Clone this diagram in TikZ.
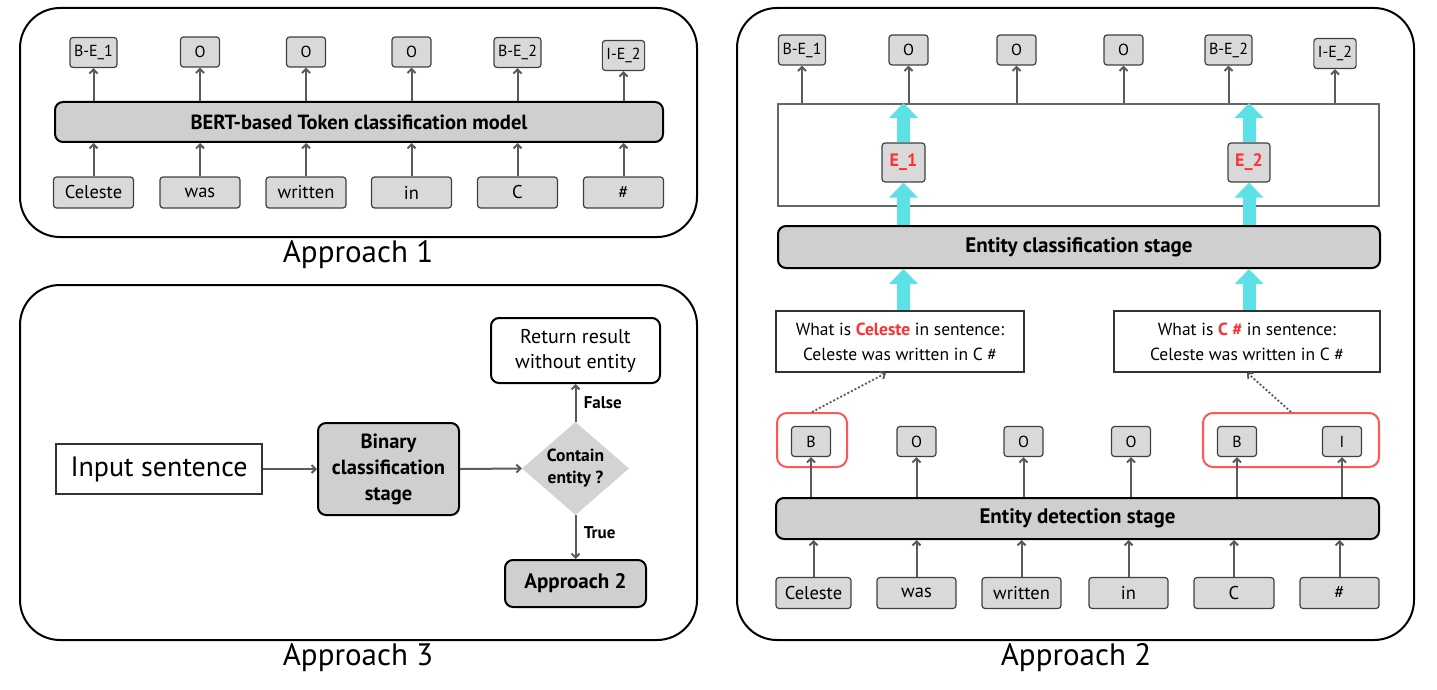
\documentclass[tikz,border=0pt]{standalone}
\usepackage{fontspec}
\setmainfont{PT Sans}
\usetikzlibrary{arrows.meta,shapes.geometric,calc}
\definecolor{tokfill}{HTML}{D9D9D9}
\definecolor{stagefill}{HTML}{CFCFCF}
\definecolor{diafill}{HTML}{D3D3D3}
\definecolor{arrgray}{HTML}{5A5A5A}
\definecolor{cyanA}{HTML}{5CE1E6}
\definecolor{redT}{HTML}{FF3131}
\definecolor{redB}{HTML}{FF5757}
\begin{document}
\begin{tikzpicture}[x=1pt,y=-1pt,
  panel/.style={draw=black, line width=2pt, rounded corners=40pt, minimum width=677pt, inner sep=0pt},
  tok/.style={draw=black!75, fill=tokfill, rounded corners=3pt, line width=1.2pt, minimum width=80pt, minimum height=31pt, inner sep=0pt, font=\fontsize{18.5}{20}\selectfont},
  lab/.style={draw=black!75, fill=tokfill, rounded corners=3pt, line width=1.2pt, minimum width=39pt, minimum height=30pt, inner xsep=4pt, inner ysep=0pt, font=\fontsize{16}{18}\selectfont},
  stage/.style={draw=black, fill=stagefill, line width=2pt, rounded corners=8pt, inner sep=0pt, align=center, font=\fontsize{21}{26}\selectfont\bfseries},
  qbox/.style={draw=black!80, fill=white, line width=1.2pt, inner sep=0pt, minimum height=61pt, align=center, font=\fontsize{17.5}{25}\selectfont},
  redbox/.style={draw=redB, line width=2pt, rounded corners=10pt, minimum height=54pt, inner sep=0pt},
  arr/.style={draw=arrgray, line width=2pt, -{Straight Barb[length=4pt,width=8pt]}},
  dotarr/.style={draw=arrgray, line width=2pt, dotted, -{Straight Barb[length=4pt,width=8pt]}},
  cy/.style={draw=cyanA, line width=13pt, -{Triangle[length=15pt,width=28pt]}},
  ttl/.style={font=\fontsize{31}{34}\selectfont},
  elab/.style={font=\fontsize{17}{19}\selectfont\bfseries}
]
\useasboundingbox (0,0) rectangle (1437,690);

% ---------------- Approach 1 ----------------
\node[panel, minimum height=229pt] (p1) at (358.5,122.5) {};
\node[ttl] (p1t) at (358,255) {Approach 1};
\node[stage, minimum width=608pt, minimum height=40pt, font=\fontsize{20.5}{22}\selectfont\bfseries] (bert) at (359,122) {BERT-based Token classification model};
\node[tok] (a1) at (93.5,192.5) {Celeste};
\node[tok] (a2) at (200,192.5) {was};
\node[tok] (a3) at (306,192.5) {written};
\node[tok] (a4) at (411.5,192.5) {in};
\node[tok] (a5) at (517.5,192.5) {C};
\node[tok] (a6) at (623.5,192.5) {\#};
\node[lab] (b1) at (93.5,52.5) {B-E\_1};
\node[lab] (b2) at (200,52) {O};
\node[lab] (b3) at (306,52) {O};
\node[lab] (b4) at (411.5,52) {O};
\node[lab] (b5) at (517.5,52.5) {B-E\_2};
\node[lab] (b6) at (623.5,55.5) {I-E\_2};
\foreach \i in {1,...,6}{
  \draw[arr] (a\i.north) -- (a\i.north |- bert.south);
  \draw[arr] (b\i.south |- bert.north) -- (b\i.south);
}

% ---------------- Approach 3 ----------------
\node[panel, minimum height=355pt] (p3) at (358.5,462.5) {};
\node[ttl] (p3t) at (358,658) {Approach 3};
\node[draw=black!80, line width=1.2pt, minimum width=206pt, minimum height=50pt, inner sep=0pt, font=\fontsize{28}{30}\selectfont] (inp) at (159,469) {Input sentence};
\node[stage, minimum width=141pt, minimum height=92pt, font=\fontsize{20.5}{26}\selectfont\bfseries] (bin) at (388.5,469) {Binary\\classification\\stage};
\node[diamond, fill=diafill, aspect=1.15, inner sep=0pt, minimum width=107pt, minimum height=93pt, align=center, font=\fontsize{17.5}{22}\selectfont\bfseries] (dia) at (575.5,468.5) {Contain\\entity ?};
\node[draw=black, fill=white, line width=2pt, rounded corners=8pt, minimum width=169pt, minimum height=65pt, inner sep=0pt, align=center, font=\fontsize{20}{25}\selectfont] (ret) at (575.5,350.5) {Return result\\without entity};
\node[stage, minimum width=141pt, minimum height=47pt] (ap2) at (575.5,583.5) {Approach 2};
\draw[arr] (inp.east) -- (bin.west);
\draw[arr] (bin.east) -- (dia.west);
\draw[arr] (dia.north) -- node[right, xshift=4pt, elab] (fl) {False} (ret.south);
\draw[arr] (dia.south) -- node[right, xshift=4pt, pos=0.4, elab] (tl) {True} (ap2.north);

% ---------------- Approach 2 ----------------
\node[panel, minimum height=632pt] (p2) at (1075.5,324) {};
\node[ttl] (p2t) at (1076,658) {Approach 2};

% top labels
\node[lab] (c1) at (802,50) {B-E\_1};
\node[lab] (c2) at (908.5,50) {O};
\node[lab] (c3) at (1016.5,50) {O};
\node[lab] (c4) at (1123.5,50) {O};
\node[lab] (c5) at (1228.5,50) {B-E\_2};
\node[lab] (c6) at (1335,53.5) {I-E\_2};

\node[draw=black!60, line width=2pt, minimum width=601pt, minimum height=102pt, inner sep=0pt] (clsbox) at (1078.5,155) {};
\foreach \i in {1,...,6}{
  \draw[arr] (c\i.south |- clsbox.north) -- (c\i.south);
}
\node[stage, minimum width=602pt, minimum height=42pt] (ecs) at (1079,247) {Entity classification stage};

\node[qbox, minimum width=248pt] (qL) at (900,341.5) {What is \textcolor{redT}{\bfseries Celeste} in sentence:\\Celeste was written in C \#};
\node[qbox, minimum width=266pt] (qR) at (1247,341.5) {What is \textcolor{redT}{\bfseries C \#} in sentence:\\Celeste was written in C \#};

\coordinate (e1x) at (903.5,0);
\coordinate (e2x) at (1249,0);
\draw[cy] (e1x |- qL.north) -- (e1x |- ecs.south);
\draw[cy] (e2x |- qR.north) -- (e2x |- ecs.south);
\node[lab, minimum width=43pt, minimum height=39pt, font=\fontsize{18}{20}\selectfont\bfseries, text=redT] (E1) at (903.5,162.5) {E\_1};
\node[lab, minimum width=42pt, minimum height=39pt, font=\fontsize{18}{20}\selectfont\bfseries, text=redT] (E2) at (1249,162.5) {E\_2};
\draw[cy] (E1 |- ecs.north) -- (E1.south);
\draw[cy] (E2 |- ecs.north) -- (E2.south);
\draw[cy] (E1.north) -- (E1 |- clsbox.north);
\draw[cy] (E2.north) -- (E2 |- clsbox.north);

% detection
\node[redbox, minimum width=70pt] (redL) at (812,440) {};
\node[redbox, minimum width=176pt] (redR) at (1291,440) {};
\node[lab] (m1) at (811,441.5) {B};
\node[lab] (m2) at (916.5,441.5) {O};
\node[lab] (m3) at (1023.5,441.5) {O};
\node[lab] (m4) at (1131,441.5) {O};
\node[lab] (m5) at (1237,441.5) {B};
\node[lab] (m6) at (1342,441.5) {I};

\node[stage, minimum width=603pt, minimum height=41pt] (eds) at (1077.5,518.5) {Entity detection stage};

\node[tok, minimum width=75pt] (d1) at (813.5,593) {Celeste};
\node[tok, minimum width=79pt] (d2) at (916.5,593) {was};
\node[tok, minimum width=79pt] (d3) at (1021.5,593) {written};
\node[tok, minimum width=79pt] (d4) at (1128.5,593) {in};
\node[tok, minimum width=80pt] (d5) at (1234,593) {C};
\node[tok, minimum width=79pt] (d6) at (1339.5,593) {\#};
\foreach \i in {1,...,6}{
  \draw[arr] (d\i.north) -- (d\i.north |- eds.south);
  \draw[arr] (m\i.south |- eds.north) -- (m\i.south);
}
\coordinate (qLend) at (886,373);
\draw[dotarr, line width=1.8pt] (redL.north) -- (qLend);
\draw[dotarr, line width=1.8pt] (redR.north) -- (qR.south);
\end{tikzpicture}
\end{document}
